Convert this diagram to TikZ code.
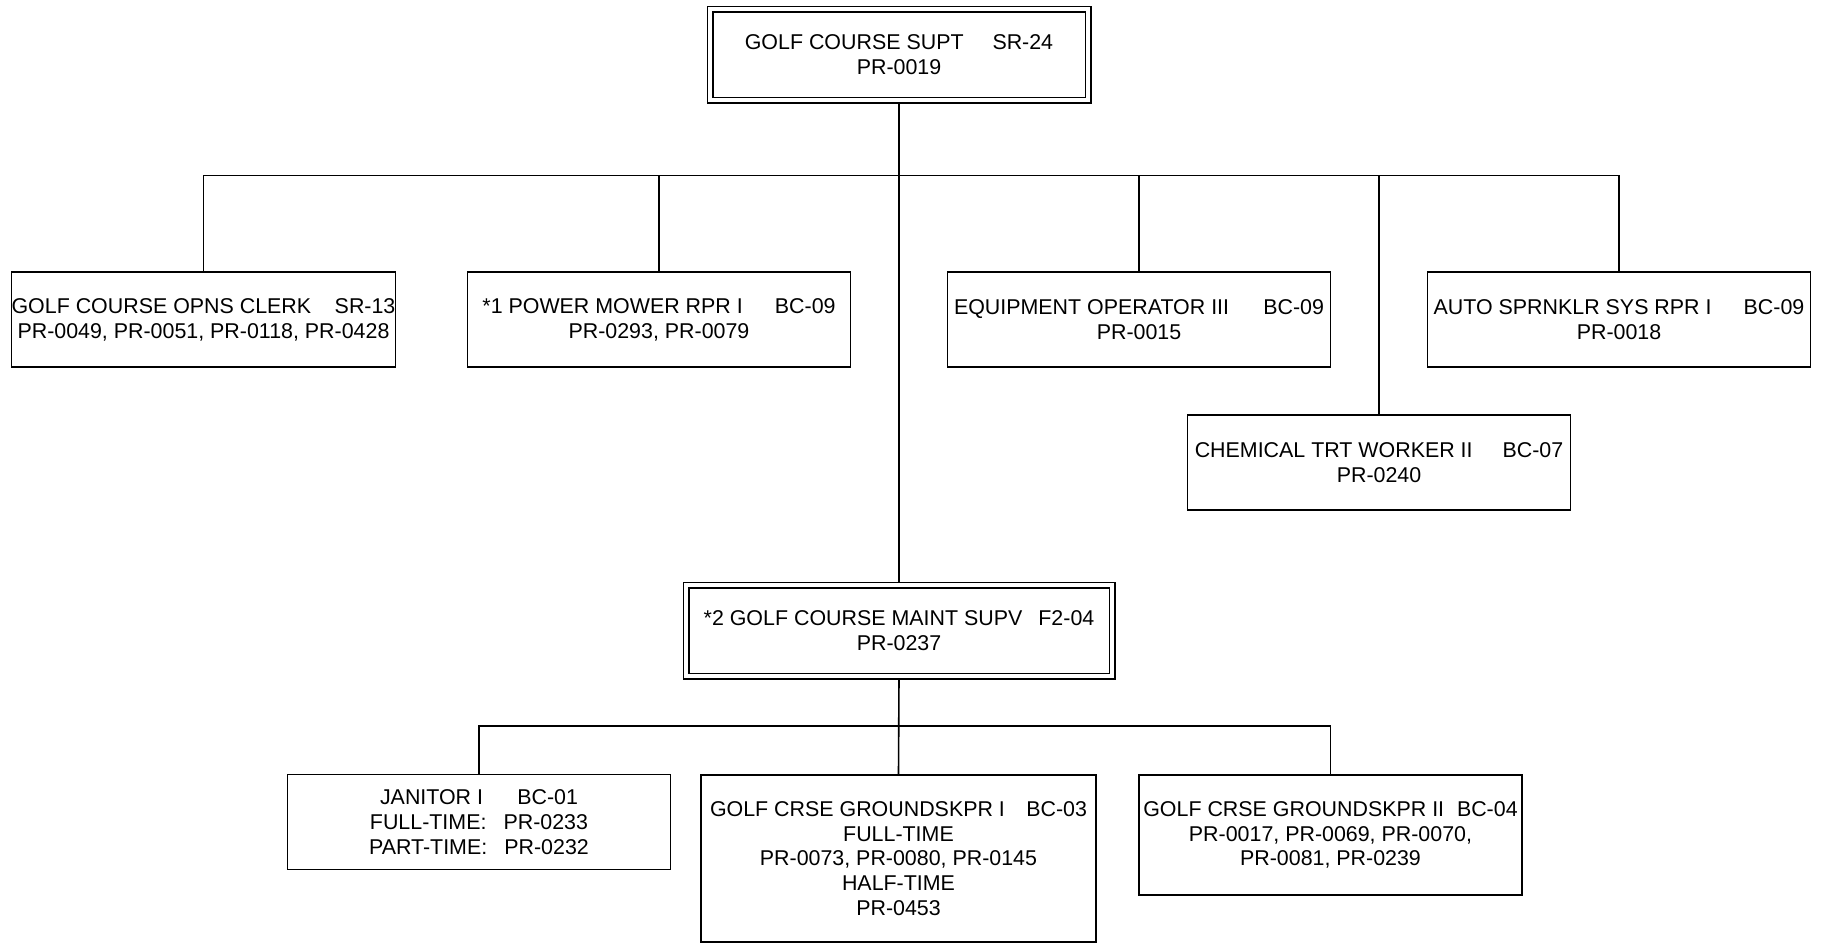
\documentclass[tikz,border=0pt]{standalone}
\usepackage{fontspec}
\setmainfont{Liberation Sans}
\usetikzlibrary{backgrounds}

\begin{document}
\begin{tikzpicture}[x=.5pt, y=-.5pt,
    every node/.style={font=\fontsize{10.7pt}{12.4pt}\selectfont, align=center, inner sep=0pt},
    post/.style={draw, line width=.85pt, minimum width=191.5pt, minimum height=47.5pt},
    headpost/.style={draw, line width=.85pt, double, double distance=1.8pt, minimum height=45.5pt},
    link/.style={line width=.8pt}]
             \useasboundingbox (0,0) rectangle (1822,944);

             \node[headpost, minimum width=189pt] (supt) at (899, 54.5) {GOLF COURSE SUPT\hspace*{1.35em}SR-24\\PR-0019};

             \node[post] (clerk) at (203.5, 319.5) {GOLF COURSE OPNS CLERK\hspace*{1.1em}SR-13\\PR-0049, PR-0051, PR-0118, PR-0428};
             \node[post] (mower) at (659, 319.5) {*1 POWER MOWER RPR I\hspace*{1.5em}BC-09\\PR-0293, PR-0079};
             \node[post] (equip) at (1139, 319.5) {EQUIPMENT OPERATOR III\hspace*{1.6em}BC-09\\PR-0015};
             \node[post] (sprnklr) at (1619, 319.5) {AUTO SPRNKLR SYS RPR I\hspace*{1.5em}BC-09\\PR-0018};
             \node[post] (chem) at (1379, 462.5) {CHEMICAL TRT WORKER II\hspace*{1.4em}BC-07\\PR-0240};

             \node[headpost, minimum width=213pt] (maint) at (899, 630.5) {*2 GOLF COURSE MAINT SUPV\hspace*{.75em}F2-04\\PR-0237};

             \node[post] (janitor) at (479, 822) {JANITOR I\hspace*{1.6em}BC-01\\FULL-TIME:\hspace*{.8em}PR-0233\\PART-TIME:\hspace*{.8em}PR-0232};
             \node[post, minimum width=197.5pt, minimum height=83.5pt] (gkone) at (898.5, 858.5) {GOLF CRSE GROUNDSKPR I\hspace*{1em}BC-03\\FULL-TIME\\PR-0073, PR-0080, PR-0145\\HALF-TIME\\PR-0453};
             \node[post, minimum height=60pt] (gktwo) at (1330.5, 835) {GOLF CRSE GROUNDSKPR II\hspace*{.6em}BC-04\\PR-0017, PR-0069, PR-0070,\\PR-0081, PR-0239};

             \coordinate (topbus) at (899, 175.5);
             \coordinate (lowbus) at (899, 726);

             \begin{scope}[on background layer]
             \draw[link] (supt.south) -- (maint.north);
             \draw[link] (clerk.north) |- (topbus) -| (sprnklr.north);
             \draw[link] (mower.north) -- (mower.north |- topbus);
             \draw[link] (equip.north) -- (equip.north |- topbus);
             \draw[link] (chem.north) -- (chem.north |- topbus);

             \draw[link] (maint.south) -- (gkone.north);
             \draw[link] (janitor.north) |- (lowbus) -| (gktwo.north);
             \end{scope}
             \end{tikzpicture}
\end{document}
